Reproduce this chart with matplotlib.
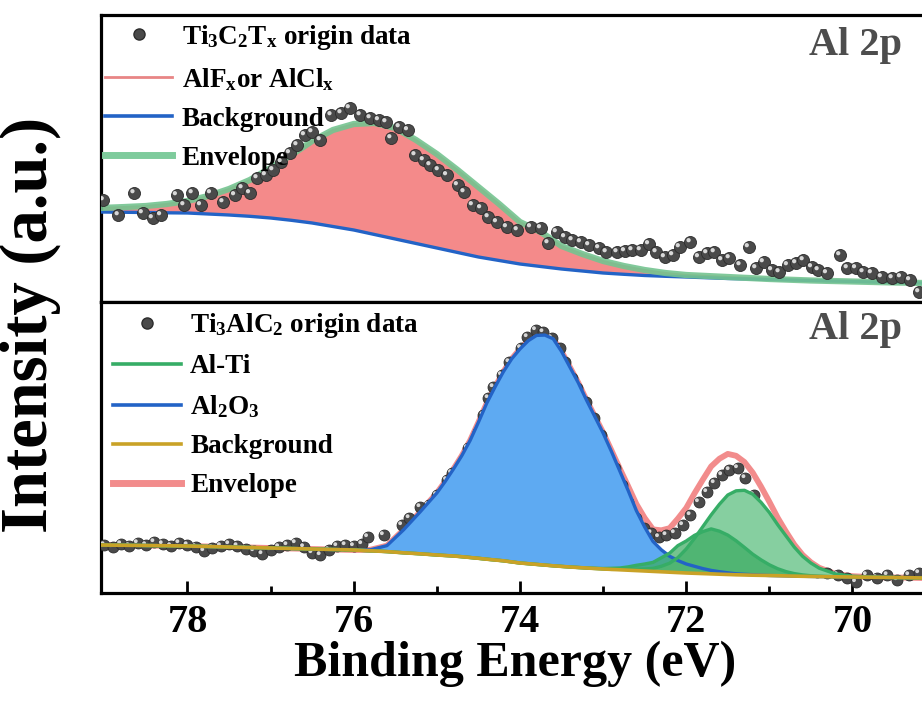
import numpy as np
import matplotlib
matplotlib.use("Agg")
import matplotlib.pyplot as plt
from matplotlib.lines import Line2D
from matplotlib.transforms import offset_copy

plt.rcParams['font.family'] = ['Liberation Serif', 'DejaVu Serif']
plt.rcParams['font.weight'] = 'bold'
plt.rcParams['mathtext.fontset'] = 'custom'
plt.rcParams['mathtext.rm'] = 'Liberation Serif:bold'
plt.rcParams['mathtext.it'] = 'Liberation Serif:bold'
plt.rcParams['mathtext.bf'] = 'Liberation Serif:bold'

# ---------------- top panel: Ti3C2Tx ----------------
top_E = [79.01, 78.83, 78.64, 78.54, 78.42, 78.32, 78.13, 78.04, 77.94, 77.84,
         77.72, 77.57, 77.43, 77.34, 77.25, 77.16, 77.06, 76.97, 76.87, 76.77,
         76.68, 76.59, 76.50, 76.40, 76.27, 76.15, 76.05, 75.92, 75.80, 75.70,
         75.61, 75.55, 75.45, 75.35, 75.26, 75.16, 75.08, 74.98, 74.88, 74.75,
         74.67, 74.57, 74.47, 74.38, 74.28, 74.16, 74.03, 73.87, 73.75, 73.66,
         73.56, 73.46, 73.37, 73.27, 73.17, 73.05, 72.96, 72.83, 72.74, 72.65,
         72.55, 72.45, 72.36, 72.26, 72.16, 72.08, 71.95, 71.85, 71.75, 71.66,
         71.57, 71.48, 71.35, 71.25, 71.16, 71.07, 70.97, 70.88, 70.78, 70.68,
         70.59, 70.49, 70.41, 70.31, 70.15, 70.06, 69.96, 69.87, 69.77, 69.65,
         69.52, 69.42, 69.31, 69.20]
top_I = [102, 87, 109, 89, 84, 87, 107, 97, 109, 97,
         109, 100, 107, 114, 109, 124, 127, 132, 140, 149,
         157, 167, 170, 162, 187, 189, 194, 187, 184, 182,
         180, 164, 175, 172, 147, 142, 137, 132, 127, 117,
         110, 97, 94, 85, 80, 75, 72, 75, 74, 59,
         70, 65, 62, 60, 57, 54, 50, 50, 51, 52,
         52, 58, 50, 45, 47, 55, 60, 45, 49, 50,
         42, 44, 37, 55, 34, 40, 32, 30, 37, 39,
         42, 35, 32, 29, 47, 34, 34, 30, 29, 25,
         24, 25, 22, 10]

fit_E_top = [79.05, 78.75, 78.5, 78.25, 78.0, 77.75, 77.5, 77.25, 77.0, 76.75,
             76.5, 76.25, 76.0, 75.75, 75.5, 75.25, 75.0, 74.75, 74.5, 74.25,
             74.0, 73.75, 73.5, 73.25, 73.0, 72.75, 72.5, 72.25, 72.0, 71.5,
             71.0, 70.5, 70.0, 69.5, 69.15]
alf_top = [94, 95, 96, 98, 101, 106, 113, 122, 134, 147,
           161, 172, 178, 179, 174, 162, 148, 132, 115, 98,
           80, 70, 56, 48, 41, 36, 32, 29, 27, 25,
           23, 21.5, 20.5, 19.5, 19]
bg_top = [90, 89.7, 89.5, 89.2, 89, 88, 87, 85.7, 84, 81.7,
          79, 75.5, 72, 67.5, 63, 58.5, 54, 49.5, 45, 41.5,
          38, 35.5, 33, 31, 29, 27.7, 26.5, 25.7, 25, 23.5,
          22.5, 21.5, 20.5, 19.5, 19]

# ---------------- bottom panel: Ti3AlC2 ----------------
bot_E = [79.0, 78.9, 78.8, 78.7, 78.6, 78.5, 78.4, 78.3, 78.2, 78.1,
         78.0, 77.9, 77.8, 77.7, 77.6, 77.5, 77.4, 77.3, 77.2, 77.1,
         77.0, 76.9, 76.8, 76.7, 76.6, 76.5, 76.4, 76.3, 76.2, 76.1,
         76.0, 75.9, 75.83, 75.64, 75.42, 75.33, 75.20, 75.10, 75.00, 74.88,
         74.82, 74.69, 74.63, 74.50, 74.44, 74.38, 74.32, 74.22, 74.13, 73.99,
         73.91, 73.81, 73.72, 73.62, 73.52, 73.46, 73.37, 73.31, 73.21, 73.11,
         73.02, 72.96, 72.86, 72.77, 72.70, 72.61, 72.51, 72.42, 72.33, 72.24,
         72.14, 72.04, 71.95, 71.85, 71.75, 71.66, 71.57, 71.48, 71.38, 71.29,
         71.19, 71.07, 70.97, 70.88, 70.78, 70.68, 70.56, 70.43, 70.31, 70.18,
         70.06, 69.96, 69.83, 69.71, 69.58, 69.46, 69.32, 69.20]
bot_I = [48, 46, 49, 47, 50, 48, 51, 49, 47, 50,
         48, 46, 42, 45, 47, 49, 47, 44, 42, 39,
         43, 46, 48, 50, 46, 40, 38, 43, 47, 48,
         47, 49, 56, 58, 68, 75, 86, 88, 98, 113,
         120, 131, 145, 161, 178, 195, 206, 218, 231, 245,
         256, 263, 261, 255, 245, 231, 215, 205, 191, 175,
         158, 141, 125, 108, 91, 75, 65, 60, 56, 58,
         60, 68, 78, 91, 101, 110, 118, 123, 125, 115,
         98, 78, 60, 45, 38, 31, 26, 21, 20, 18,
         15, 11, 18, 15, 18, 13, 18, 20]

fit_E_bot = [79.05, 78.5, 78.0, 77.5, 77.0, 76.5, 76.0, 75.8, 75.6, 75.4, 75.2,
             75.1, 75.0, 74.9, 74.8, 74.7, 74.6, 74.5, 74.4, 74.3, 74.2,
             74.1, 74.0, 73.9, 73.8, 73.7, 73.6, 73.5, 73.4, 73.3, 73.2,
             73.1, 73.0, 72.9, 72.8, 72.7, 72.6, 72.5, 72.4, 72.3, 72.2,
             72.1, 72.0, 71.9, 71.8, 71.7, 71.6, 71.5, 71.4, 71.3, 71.2,
             71.1, 71.0, 70.9, 70.8, 70.7, 70.6, 70.5, 70.4,
             70.2, 70.0, 69.8, 69.6, 69.4, 69.15]
bg_bot = [48, 47.5, 47, 46, 45, 44, 43, 42.2, 41.4, 40.2, 39.2,
          38.6, 38, 37.5, 37, 36.3, 35.5, 34.7, 33.8, 33, 32.2,
          31.1, 30, 29.3, 28.6, 27.9, 27.2, 26.6, 26, 25.5, 25,
          24.5, 24, 23.6, 23.2, 22.8, 22.4, 22, 21.6, 21.2, 20.8,
          20.4, 20, 19.7, 19.4, 19.1, 18.8, 18.5, 18.2, 18, 17.8,
          17.65, 17.5, 17.3, 17.1, 16.9, 16.7, 16.55, 16.4,
          16.2, 16, 15.8, 15.6, 15.4, 15]
# peak heights above background
al2o3 = [0, 0, 0, 0, 0, 0, 0, 1, 6, 23, 42,
         52, 62, 74, 87, 101, 117, 136, 156, 173, 189,
         203, 214, 223, 229, 230, 227, 215, 200, 185, 168,
         152, 136, 118, 99, 80, 60, 44, 30, 22, 16,
         12, 9, 7, 5, 3.5, 2.5, 1.7, 1, 0.7, 0.5,
         0.2, 0, 0, 0, 0, 0, 0, 0,
         0, 0, 0, 0, 0, 0]
alti_1 = [0, 0, 0, 0, 0, 0, 0, 0, 0, 0, 0,
          0, 0, 0, 0, 0, 0, 0, 0, 0, 0,
          0, 0, 0, 0, 0, 0, 0, 0, 0, 0,
          0, 0, 0, 0.5, 0.9, 1.3, 2, 3, 5.5, 9,
          15, 24, 35, 47, 59, 70, 79.5, 84, 84.7, 81,
          73, 63, 51, 40, 29, 20, 13.4, 8.4,
          2.8, 0.8, 0.2, 0, 0, 0]
alti_2 = [0, 0, 0, 0, 0, 0, 0, 0, 0, 0, 0,
          0, 0, 0, 0, 0, 0, 0, 0, 0, 0,
          0, 0, 0, 0, 0, 0, 0, 0, 0, 0,
          0.3, 0.5, 1.1, 1.8, 3.3, 5.3, 7, 9, 14, 19,
          27, 32, 38, 42, 45, 43, 39.4, 34, 27.6, 21,
          15.5, 10.7, 7, 4.3, 2.5, 1.4, 0.7, 0.4,
          0, 0, 0, 0, 0, 0]

fig = plt.figure(figsize=(9.22, 7.01), dpi=100)
ax1 = fig.add_axes([0.10954, 0.56919, 0.8926, 0.40942])
ax2 = fig.add_axes([0.10954, 0.15407, 0.8926, 0.41512])


def spheres(ax, x, y, size):
    ax.scatter(x, y, s=size, c='#4a4a4a', edgecolors='#2c2c2c', linewidths=0.6, zorder=5)
    hl = offset_copy(ax.transData, fig=fig, x=-1.3, y=1.3, units='points')
    ax.scatter(x, y, s=size / 8, c='#d8d8d8', edgecolors='none', transform=hl, zorder=6)


# top
Et = np.array(fit_E_top)
ax1.fill_between(Et, bg_top, alf_top, color='#f48a8a', lw=0, zorder=1)
ax1.plot(Et, alf_top, color='#e88585', lw=1.5, zorder=2)
ax1.plot(Et, bg_top, color='#2363c6', lw=2.4, zorder=3)
ax1.plot(Et, alf_top, color='#74c490', lw=4.5, alpha=0.9, zorder=4)
spheres(ax1, top_E, top_I, 75)
ax1.set_ylim(0, 287)

h1 = [Line2D([], [], ls='none', marker='o', ms=8, color='#4a4a4a', mec='#2c2c2c'),
      Line2D([], [], color='#e88585', lw=2),
      Line2D([], [], color='#2363c6', lw=2.6),
      Line2D([], [], color='#7ecb9c', lw=5)]
l1 = [r'$\mathrm{Ti_3C_2T_x}$ origin data', r'$\mathrm{AlF_x}$or $\mathrm{AlCl_x}$',
      'Background', 'Envelope']
ax1.legend(h1, l1, loc='upper left', bbox_to_anchor=(-0.012, 1.02), frameon=False,
           fontsize=19.5, handlelength=2.5, handletextpad=0.35, labelspacing=0.52,
           borderaxespad=0.1, numpoints=1)
ax1.text(0.973, 0.895, 'Al 2p', transform=ax1.transAxes, ha='right', va='center',
         fontsize=29, color='#4d4d4d')

# bottom
Eb = np.array(fit_E_bot)
bgb = np.array(bg_bot)
c_al2o3 = bgb + np.array(al2o3)
c_alti1 = bgb + np.array(alti_1)
c_alti2 = bgb + np.array(alti_2)
env_b = bgb + np.array(al2o3) + np.array(alti_1) + np.array(alti_2)

spheres(ax2, bot_E, bot_I, 62)
ax2.fill_between(Eb, bgb, c_al2o3, color='#5eaaf2', lw=0, zorder=6)
ax2.fill_between(Eb, bgb, c_alti1, color='#86cfa0', lw=0, zorder=6)
ax2.fill_between(Eb, bgb, c_alti2, color='#3aaa60', alpha=0.7, lw=0, zorder=6)
ax2.plot(Eb, c_al2o3, color='#2363c6', lw=2.4, zorder=7)
ax2.plot(Eb, c_alti1, color='#36ad66', lw=2.4, zorder=7)
ax2.plot(Eb, c_alti2, color='#36ad66', lw=2.4, zorder=7)
ax2.plot(Eb, bgb, color='#c9a227', lw=2.6, zorder=8)
ax2.plot(Eb, env_b, color='#f28c8c', lw=4.2, zorder=4)
ax2.set_ylim(0, 291)

h2 = [Line2D([], [], ls='none', marker='o', ms=8, color='#4a4a4a', mec='#2c2c2c'),
      Line2D([], [], color='#36ad66', lw=2.6),
      Line2D([], [], color='#2363c6', lw=2.6),
      Line2D([], [], color='#c9a227', lw=2.6),
      Line2D([], [], color='#f28c8c', lw=5)]
l2 = [r'$\mathrm{Ti_3AlC_2}$ origin data', 'Al-Ti', r'$\mathrm{Al_2O_3}$',
      'Background', 'Envelope']
ax2.legend(h2, l2, loc='upper left', bbox_to_anchor=(-0.002, 1.015), frameon=False,
           fontsize=19.5, handlelength=2.5, handletextpad=0.35, labelspacing=0.52,
           borderaxespad=0.1, numpoints=1)
ax2.text(0.973, 0.904, 'Al 2p', transform=ax2.transAxes, ha='right', va='center',
         fontsize=29, color='#4d4d4d')

for ax in (ax1, ax2):
    ax.set_xlim(79.04, 69.14)
    ax.set_yticks([])
    for s in ax.spines.values():
        s.set_linewidth(2.3)

ax1.set_xticks([])
ax2.set_xticks([78, 76, 74, 72, 70])
ax2.set_xticks([77, 75, 73, 71], minor=True)
ax2.tick_params(axis='x', which='major', direction='in', length=9, width=2,
                labelsize=29, pad=8)
ax2.tick_params(axis='x', which='minor', direction='in', length=5, width=2)

fig.text(515 / 922, 1 - 664 / 701, 'Binding Energy (eV)', ha='center', va='center',
         fontsize=36)
fig.text(30 / 922, 1 - 325 / 701, 'Intensity (a.u.)', ha='center', va='center',
         rotation=90, fontsize=48)

fig.savefig('out.png', dpi=100)
